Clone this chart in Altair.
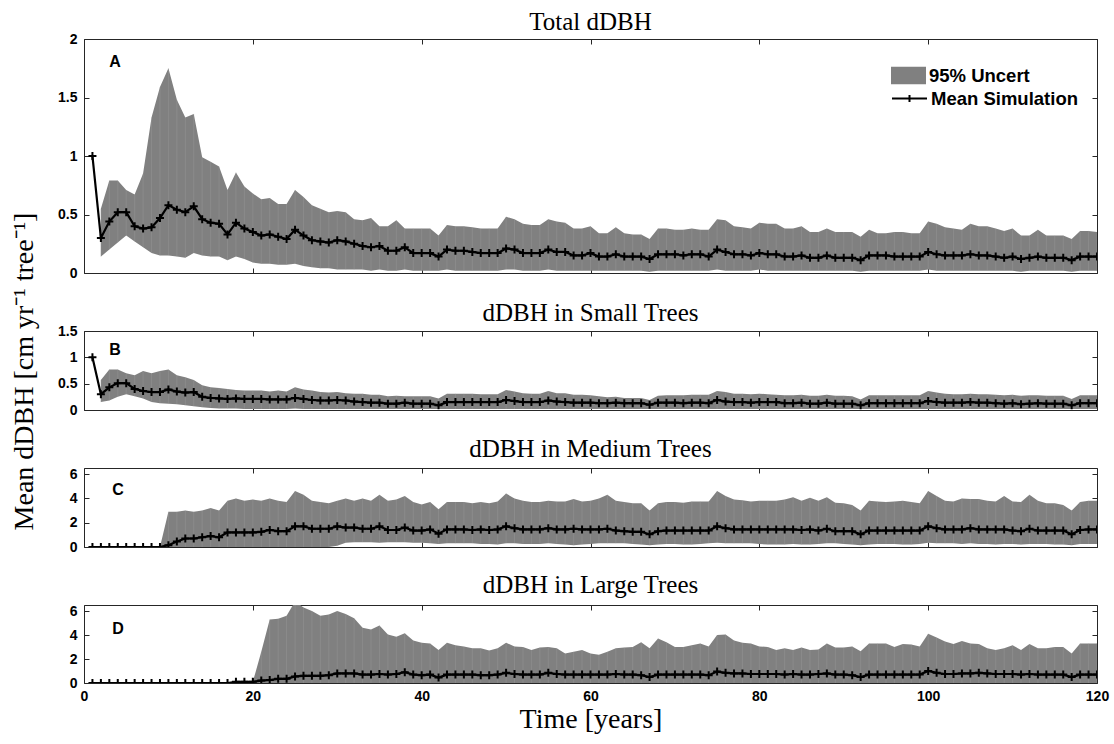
import altair as alt
import pandas as pd

years = list(range(1, 121))
x_ticks = [0, 20, 40, 60, 80, 100, 120]

# ---------------- Panel A : Total dDBH ----------------
A_mean = [1.00, 0.30, 0.44, 0.52, 0.52, 0.40, 0.38, 0.39, 0.47, 0.58,
          0.54, 0.52, 0.57, 0.46, 0.43, 0.42, 0.33, 0.43, 0.38, 0.35,
          0.32, 0.33, 0.31, 0.29, 0.37, 0.32, 0.28, 0.27, 0.26, 0.28,
          0.27, 0.25, 0.23, 0.22, 0.23, 0.19, 0.19, 0.22, 0.17, 0.17,
          0.17, 0.14, 0.20, 0.19, 0.19, 0.18, 0.17, 0.17, 0.17, 0.21,
          0.20, 0.17, 0.17, 0.17, 0.20, 0.18, 0.18, 0.15, 0.15, 0.17,
          0.14, 0.14, 0.16, 0.14, 0.14, 0.14, 0.12, 0.16, 0.16, 0.16,
          0.15, 0.16, 0.16, 0.14, 0.20, 0.18, 0.16, 0.16, 0.15, 0.17,
          0.16, 0.16, 0.14, 0.14, 0.15, 0.13, 0.13, 0.15, 0.13, 0.13,
          0.13, 0.11, 0.15, 0.15, 0.15, 0.14, 0.14, 0.14, 0.14, 0.18,
          0.16, 0.15, 0.15, 0.15, 0.16, 0.15, 0.15, 0.14, 0.13, 0.14,
          0.12, 0.13, 0.14, 0.13, 0.13, 0.13, 0.11, 0.14, 0.14, 0.14]
A_hi = [None, 0.55, 0.79, 0.79, 0.71, 0.67, 0.85, 1.33, 1.59, 1.75,
        1.48, 1.33, 1.36, 0.99, 0.95, 0.91, 0.71, 0.86, 0.74, 0.68,
        0.63, 0.64, 0.59, 0.59, 0.71, 0.65, 0.58, 0.55, 0.52, 0.53,
        0.52, 0.46, 0.45, 0.47, 0.40, 0.40, 0.45, 0.38, 0.38, 0.38,
        0.38, 0.32, 0.41, 0.40, 0.40, 0.39, 0.38, 0.38, 0.38, 0.48,
        0.46, 0.42, 0.41, 0.41, 0.46, 0.44, 0.43, 0.38, 0.38, 0.40,
        0.34, 0.34, 0.39, 0.34, 0.33, 0.33, 0.29, 0.38, 0.38, 0.37,
        0.37, 0.38, 0.37, 0.37, 0.46, 0.45, 0.40, 0.39, 0.38, 0.43,
        0.42, 0.42, 0.38, 0.38, 0.40, 0.35, 0.35, 0.38, 0.35, 0.35,
        0.35, 0.31, 0.37, 0.34, 0.34, 0.35, 0.35, 0.34, 0.34, 0.44,
        0.42, 0.39, 0.38, 0.37, 0.42, 0.40, 0.40, 0.38, 0.36, 0.38,
        0.32, 0.32, 0.37, 0.32, 0.32, 0.32, 0.29, 0.36, 0.36, 0.35]
A_lo = [None, 0.14, 0.20, 0.26, 0.32, 0.27, 0.22, 0.17, 0.15, 0.15,
        0.14, 0.13, 0.17, 0.15, 0.14, 0.14, 0.11, 0.14, 0.12, 0.09,
        0.08, 0.08, 0.07, 0.07, 0.08, 0.06, 0.05, 0.04, 0.04, 0.03,
        0.03, 0.03, 0.03, 0.02, 0.03, 0.02, 0.02, 0.03, 0.02, 0.02,
        0.02, 0.02, 0.03, 0.02, 0.02, 0.02, 0.02, 0.02, 0.02, 0.03,
        0.03, 0.02, 0.02, 0.02, 0.03, 0.02, 0.02, 0.02, 0.02, 0.02,
        0.02, 0.02, 0.02, 0.02, 0.02, 0.02, 0.01, 0.02, 0.02, 0.02,
        0.02, 0.02, 0.02, 0.02, 0.03, 0.02, 0.02, 0.02, 0.02, 0.03,
        0.02, 0.02, 0.02, 0.02, 0.02, 0.02, 0.02, 0.02, 0.02, 0.02,
        0.02, 0.01, 0.02, 0.02, 0.02, 0.02, 0.02, 0.02, 0.02, 0.03,
        0.02, 0.02, 0.02, 0.02, 0.02, 0.02, 0.02, 0.02, 0.02, 0.02,
        0.01, 0.02, 0.02, 0.02, 0.02, 0.02, 0.01, 0.02, 0.02, 0.02]

# ---------------- Panel B : Small trees ----------------
B_mean = [1.00, 0.30, 0.43, 0.51, 0.51, 0.40, 0.36, 0.34, 0.34, 0.39,
          0.35, 0.33, 0.34, 0.25, 0.23, 0.22, 0.21, 0.22, 0.21, 0.21,
          0.21, 0.20, 0.20, 0.20, 0.23, 0.21, 0.19, 0.18, 0.18, 0.19,
          0.18, 0.16, 0.15, 0.14, 0.14, 0.12, 0.12, 0.14, 0.12, 0.12,
          0.12, 0.09, 0.15, 0.15, 0.15, 0.15, 0.15, 0.15, 0.15, 0.19,
          0.17, 0.15, 0.15, 0.15, 0.18, 0.16, 0.15, 0.14, 0.14, 0.14,
          0.13, 0.13, 0.14, 0.13, 0.13, 0.13, 0.10, 0.14, 0.14, 0.14,
          0.13, 0.14, 0.14, 0.13, 0.19, 0.16, 0.15, 0.15, 0.14, 0.15,
          0.15, 0.15, 0.13, 0.13, 0.14, 0.12, 0.12, 0.14, 0.12, 0.12,
          0.12, 0.09, 0.13, 0.13, 0.13, 0.13, 0.13, 0.13, 0.13, 0.17,
          0.15, 0.14, 0.14, 0.14, 0.15, 0.14, 0.14, 0.13, 0.12, 0.13,
          0.11, 0.12, 0.13, 0.12, 0.12, 0.12, 0.09, 0.13, 0.13, 0.13]
B_hi = [None, 0.57, 0.77, 0.77, 0.70, 0.66, 0.74, 0.70, 0.74, 0.77,
        0.66, 0.62, 0.57, 0.47, 0.43, 0.42, 0.40, 0.38, 0.37, 0.37,
        0.37, 0.35, 0.37, 0.35, 0.43, 0.39, 0.37, 0.34, 0.33, 0.34,
        0.32, 0.31, 0.31, 0.29, 0.29, 0.26, 0.27, 0.26, 0.26, 0.26,
        0.26, 0.22, 0.31, 0.31, 0.31, 0.31, 0.30, 0.30, 0.30, 0.38,
        0.35, 0.32, 0.31, 0.31, 0.36, 0.32, 0.32, 0.29, 0.29, 0.28,
        0.26, 0.24, 0.25, 0.23, 0.23, 0.23, 0.19, 0.27, 0.28, 0.28,
        0.28, 0.29, 0.29, 0.29, 0.36, 0.34, 0.31, 0.31, 0.30, 0.31,
        0.30, 0.29, 0.28, 0.28, 0.29, 0.27, 0.27, 0.29, 0.27, 0.27,
        0.26, 0.20, 0.28, 0.28, 0.28, 0.28, 0.28, 0.28, 0.28, 0.36,
        0.33, 0.31, 0.30, 0.30, 0.31, 0.30, 0.30, 0.29, 0.28, 0.29,
        0.27, 0.28, 0.28, 0.27, 0.27, 0.27, 0.21, 0.28, 0.28, 0.28]
B_lo = [None, 0.15, 0.18, 0.25, 0.30, 0.26, 0.22, 0.15, 0.13, 0.12,
        0.11, 0.09, 0.07, 0.05, 0.04, 0.03, 0.03, 0.03, 0.02, 0.02,
        0.02, 0.02, 0.02, 0.02, 0.03, 0.02, 0.02, 0.02, 0.02, 0.02,
        0.02, 0.02, 0.02, 0.02, 0.02, 0.02, 0.02, 0.02, 0.02, 0.02,
        0.02, 0.02, 0.02, 0.02, 0.02, 0.02, 0.02, 0.02, 0.02, 0.02,
        0.02, 0.02, 0.02, 0.02, 0.02, 0.02, 0.02, 0.02, 0.02, 0.02,
        0.02, 0.02, 0.02, 0.02, 0.02, 0.02, 0.02, 0.02, 0.02, 0.02,
        0.02, 0.02, 0.02, 0.02, 0.02, 0.02, 0.02, 0.02, 0.02, 0.02,
        0.02, 0.02, 0.02, 0.02, 0.02, 0.02, 0.02, 0.02, 0.02, 0.02,
        0.02, 0.02, 0.02, 0.02, 0.02, 0.02, 0.02, 0.02, 0.02, 0.02,
        0.02, 0.02, 0.02, 0.02, 0.02, 0.02, 0.02, 0.02, 0.02, 0.02,
        0.02, 0.02, 0.02, 0.02, 0.02, 0.02, 0.02, 0.02, 0.02, 0.02]

# ---------------- Panel C : Medium trees ----------------
C_mean = [0, 0, 0, 0, 0, 0, 0, 0, 0, 0.15,
          0.45, 0.70, 0.70, 0.80, 0.90, 0.80, 1.20, 1.20, 1.20, 1.20,
          1.25, 1.40, 1.30, 1.30, 1.70, 1.70, 1.50, 1.50, 1.50, 1.70,
          1.60, 1.60, 1.50, 1.50, 1.70, 1.40, 1.40, 1.60, 1.35, 1.35,
          1.45, 1.10, 1.45, 1.45, 1.45, 1.40, 1.45, 1.40, 1.45, 1.70,
          1.55, 1.45, 1.45, 1.45, 1.55, 1.45, 1.45, 1.50, 1.45, 1.45,
          1.45, 1.50, 1.35, 1.30, 1.25, 1.25, 1.05, 1.30, 1.35, 1.35,
          1.35, 1.35, 1.35, 1.35, 1.70, 1.55, 1.45, 1.45, 1.45, 1.45,
          1.45, 1.45, 1.45, 1.45, 1.40, 1.45, 1.35, 1.50, 1.30, 1.30,
          1.30, 1.05, 1.35, 1.35, 1.35, 1.35, 1.35, 1.35, 1.35, 1.70,
          1.55, 1.45, 1.45, 1.45, 1.55, 1.45, 1.45, 1.45, 1.45, 1.35,
          1.30, 1.50, 1.35, 1.35, 1.35, 1.35, 1.05, 1.40, 1.45, 1.45]
C_hi = [0, 0, 0, 0, 0, 0, 0, 0, 0, 2.9,
        2.9, 3.0, 2.9, 3.0, 3.2, 3.0, 3.8, 4.0, 3.8, 3.9,
        3.8, 4.0, 3.8, 3.7, 4.6, 4.3, 3.8, 3.7, 3.6, 3.8,
        4.0, 3.8, 4.0, 3.8, 4.3, 3.8, 3.9, 4.2, 3.7, 3.5,
        3.7, 3.1, 3.7, 3.7, 3.7, 3.6, 3.7, 3.6, 3.75, 4.4,
        4.0, 3.8, 3.7, 3.7, 3.8, 3.75, 3.75, 3.95, 3.75, 3.8,
        4.0, 4.3, 3.8, 3.7, 3.6, 3.6, 3.0, 3.6, 3.7, 3.7,
        3.65, 3.75, 3.75, 3.75, 4.6, 4.2, 3.9, 3.85, 3.75, 3.8,
        3.8, 3.8, 3.9, 4.1, 3.8, 4.05, 3.8, 4.1, 3.65, 3.6,
        3.45, 3.0, 3.8, 3.75, 3.7, 3.75, 3.8, 3.7, 3.6, 4.6,
        4.2, 3.8, 3.75, 4.0, 3.95, 3.95, 3.8, 3.75, 4.2, 3.75,
        3.7, 4.3, 3.8, 3.6, 3.6, 3.45, 3.0, 3.7, 3.8, 3.8]
C_lo = [0, 0, 0, 0, 0, 0, 0, 0, 0, 0,
        0, 0, 0, 0, 0, 0, 0, 0, 0, 0,
        0, 0, 0, 0, 0, 0, 0, 0, 0, 0.1,
        0.35, 0.40, 0.40, 0.40, 0.35, 0.40, 0.40, 0.40, 0.35, 0.35,
        0.30, 0.25, 0.30, 0.30, 0.30, 0.30, 0.25, 0.25, 0.20, 0.30,
        0.30, 0.25, 0.25, 0.25, 0.30, 0.25, 0.20, 0.15, 0.20, 0.25,
        0.30, 0.30, 0.30, 0.30, 0.25, 0.20, 0.15, 0.20, 0.25, 0.25,
        0.20, 0.20, 0.25, 0.30, 0.35, 0.30, 0.30, 0.30, 0.30, 0.25,
        0.20, 0.20, 0.20, 0.25, 0.20, 0.20, 0.25, 0.30, 0.30, 0.25,
        0.20, 0.15, 0.20, 0.25, 0.25, 0.25, 0.20, 0.20, 0.25, 0.35,
        0.30, 0.30, 0.30, 0.25, 0.30, 0.25, 0.25, 0.20, 0.25, 0.25,
        0.20, 0.25, 0.25, 0.25, 0.20, 0.20, 0.15, 0.25, 0.25, 0.25]

# ---------------- Panel D : Large trees ----------------
D_mean = [0, 0, 0, 0, 0, 0, 0, 0, 0, 0,
          0, 0, 0, 0, 0, 0, 0, 0.1, 0.1, 0.1,
          0.2, 0.25, 0.35, 0.35, 0.55, 0.6, 0.6, 0.6, 0.65, 0.8,
          0.8, 0.8, 0.7, 0.7, 0.75, 0.7, 0.75, 0.9, 0.7, 0.65,
          0.7, 0.45, 0.7, 0.7, 0.7, 0.7, 0.65, 0.65, 0.7, 0.85,
          0.75, 0.7, 0.7, 0.7, 0.85, 0.75, 0.7, 0.7, 0.7, 0.7,
          0.7, 0.7, 0.75, 0.7, 0.7, 0.65, 0.5, 0.7, 0.7, 0.7,
          0.7, 0.7, 0.7, 0.65, 0.95, 0.85, 0.8, 0.8, 0.75, 0.75,
          0.75, 0.75, 0.7, 0.75, 0.7, 0.7, 0.75, 0.8, 0.7, 0.7,
          0.65, 0.5, 0.7, 0.7, 0.7, 0.7, 0.7, 0.7, 0.7, 1.0,
          0.85, 0.75, 0.75, 0.8, 0.8, 0.85, 0.8, 0.75, 0.75, 0.75,
          0.7, 0.75, 0.7, 0.7, 0.7, 0.7, 0.5, 0.7, 0.7, 0.7]
D_hi = [0, 0, 0, 0, 0, 0, 0, 0, 0, 0,
        0, 0, 0, 0, 0, 0, 0, 0, 0, 0.1,
        2.6, 5.3, 5.35, 5.6, 6.8, 6.3, 6.0, 5.6, 5.7, 6.0,
        5.75, 5.4, 4.6, 4.45, 4.8, 4.05, 3.85, 4.15, 3.55, 3.35,
        3.3, 2.75, 3.35, 3.15, 3.05, 2.9, 2.9, 2.7, 2.9, 3.35,
        3.05, 3.0, 2.75, 2.95, 3.0, 2.9, 2.45, 2.6, 2.75, 2.45,
        2.35, 2.6, 2.9, 2.95, 3.0, 3.4, 2.9, 3.7, 3.4, 3.0,
        3.0, 3.15, 3.3, 3.05, 4.0, 4.05, 3.55, 3.35, 3.3, 3.05,
        3.0, 2.75, 2.9, 2.75, 2.95, 2.75, 2.8, 3.3, 2.95, 2.95,
        3.05, 2.65, 3.3, 3.3, 3.3, 3.0, 3.25, 3.2, 3.05, 4.1,
        3.8, 3.45, 3.25, 3.5, 3.3, 3.25, 2.9, 2.75, 2.9, 3.15,
        2.75, 3.25, 2.9, 2.9, 3.0, 3.0, 2.45, 3.3, 3.3, 3.3]
D_lo = [0] * 120

panels = [
    dict(title="Total dDBH", letter="A", mean=A_mean, hi=A_hi, lo=A_lo,
         ymax=2, yticks=[0, 0.5, 1, 1.5, 2], height=234, lx=31, ly=23, toff=-3),
    dict(title="dDBH in Small Trees", letter="B", mean=B_mean, hi=B_hi, lo=B_lo,
         ymax=1.5, yticks=[0, 0.5, 1, 1.5], height=79, lx=31, ly=19, toff=-2),
    dict(title="dDBH in Medium Trees", letter="C", mean=C_mean, hi=C_hi, lo=C_lo,
         ymax=6.5, yticks=[0, 2, 4, 6], height=79, lx=34, ly=22, toff=5),
    dict(title="dDBH in Large Trees", letter="D", mean=D_mean, hi=D_hi, lo=D_lo,
         ymax=6.5, yticks=[0, 2, 4, 6], height=78, lx=34, ly=24, toff=6),
]

SERIF = "Liberation Serif"
SANS = "Liberation Sans"
INK = "#262626"
YTITLE = "Mean dDBH [cm yr\u207b\u00b9 tree\u207b\u00b9]"


def tick_axis(orient, values, labels=False, title=None, fmt="~r", **kw):
    return alt.Axis(orient=orient, values=values, offset=-5, tickSize=5,
                    domain=False, grid=False, labels=labels, title=title,
                    tickColor=INK, tickWidth=1, labelFont=SANS, format=fmt,
                    labelFontWeight="bold", labelFontSize=14, labelColor="black",
                    **kw)


def make_panel(i, p):
    last = i == 3
    df = pd.DataFrame({"year": years, "mean": p["mean"], "hi": p["hi"], "lo": p["lo"]})
    band_df = df.dropna()
    xs = alt.Scale(domain=[0, 120], nice=False, zero=False)
    ys = alt.Scale(domain=[0, p["ymax"]], nice=False, zero=False)

    x_bottom_kw = dict(labelPadding=6, labelFlush=False)
    if last:
        x_bottom_kw.update(titleFont=SERIF, titleFontSize=28, titleFontWeight="normal",
                           titleColor="black", titlePadding=2)
    x_bottom = alt.X("year:Q", scale=xs,
                     axis=tick_axis("bottom", x_ticks, labels=last, fmt="d",
                                    title="Time [years]" if last else None, **x_bottom_kw))
    y_left = alt.Y("hi:Q", scale=ys,
                   axis=tick_axis("left", p["yticks"], labels=True, labelPadding=7))

    band_enc = dict(x=x_bottom, y=y_left, y2="lo:Q")
    if i == 0:
        band = alt.Chart(band_df).transform_calculate(bl="'95% Uncert'").mark_area(
            clip=True, opacity=1).encode(
            fill=alt.Fill("bl:N", scale=alt.Scale(domain=["95% Uncert"], range=["#808080"]),
                          legend=alt.Legend(title=None, orient="none", legendX=807, legendY=19,
                                            symbolType="M-1,-0.5H1V0.5H-1Z", symbolSize=1225,
                                            symbolStrokeWidth=0, symbolOpacity=1,
                                            labelFont=SANS, labelFontWeight="bold",
                                            labelFontSize=18.5, labelColor="black",
                                            labelOffset=3, padding=0)),
            **band_enc)
    else:
        band = alt.Chart(band_df).mark_area(clip=True, color="#808080", opacity=1).encode(**band_enc)

    texture = alt.Chart(band_df).mark_rule(clip=True, stroke="#a3a3a3", strokeWidth=0.6,
                                           opacity=0.5).encode(
        x=alt.X("year:Q", scale=xs, axis=None),
        y=alt.Y("lo:Q", scale=ys, axis=None), y2="hi:Q")

    x_top = alt.X("year:Q", scale=xs, axis=tick_axis("top", x_ticks, fmt="d"))
    y_right = alt.Y("mean:Q", scale=ys, axis=tick_axis("right", p["yticks"]))
    line_enc = dict(x=x_top, y=y_right)
    if i == 0:
        line = alt.Chart(df).transform_calculate(ml="'Mean Simulation'").mark_line(
            strokeWidth=2.2, clip=True).encode(
            stroke=alt.Stroke("ml:N", scale=alt.Scale(domain=["Mean Simulation"], range=["black"]),
                              legend=alt.Legend(title=None, orient="none", legendX=807, legendY=41,
                                                symbolType="M-1,0H1M0,-0.2V0.2", symbolSize=1225,
                                                symbolStrokeWidth=2, symbolFillColor="transparent",
                                                labelFont=SANS, labelFontWeight="bold",
                                                labelFontSize=18.5, labelColor="black",
                                                labelOffset=3, padding=0)),
            **line_enc)
    else:
        line = alt.Chart(df).mark_line(color="black", strokeWidth=2.2, clip=True).encode(**line_enc)

    pts = alt.Chart(df).mark_point(shape="M-1,0H1M0,-1V1", size=64, filled=False,
                                   color="black", strokeWidth=2, opacity=1, clip=True).encode(
        x=alt.X("year:Q", scale=xs, axis=None),
        y=alt.Y("mean:Q", scale=ys, axis=None))

    letter = alt.Chart(pd.DataFrame({"t": [p["letter"]]})).mark_text(
        font=SANS, fontWeight="bold", fontSize=16, color="black", align="center",
        baseline="middle").encode(text="t:N", x=alt.value(p["lx"]), y=alt.value(p["ly"]))

    return alt.layer(band, texture, line, pts, letter).properties(
        width=1013, height=p["height"],
        title=alt.TitleParams(p["title"], font=SERIF, fontSize=25, fontWeight="normal",
                              color="black", offset=p["toff"], anchor="middle"))


charts = [make_panel(i, p) for i, p in enumerate(panels)]

chart = alt.vconcat(*charts, spacing=58, bounds="flush").resolve_scale(
    fill="independent", stroke="independent").resolve_legend(
    fill="independent", stroke="independent").properties(
    title=alt.TitleParams(YTITLE, orient="left", anchor="middle", font=SERIF, fontSize=28,
                          fontWeight="normal", color="black", offset=18),
    padding={"left": 11, "top": 9, "right": 4, "bottom": 4},
    background="white").configure_view(stroke=INK, strokeWidth=1)

chart.save("out.html", embed_options={"renderer": "svg", "actions": False})
